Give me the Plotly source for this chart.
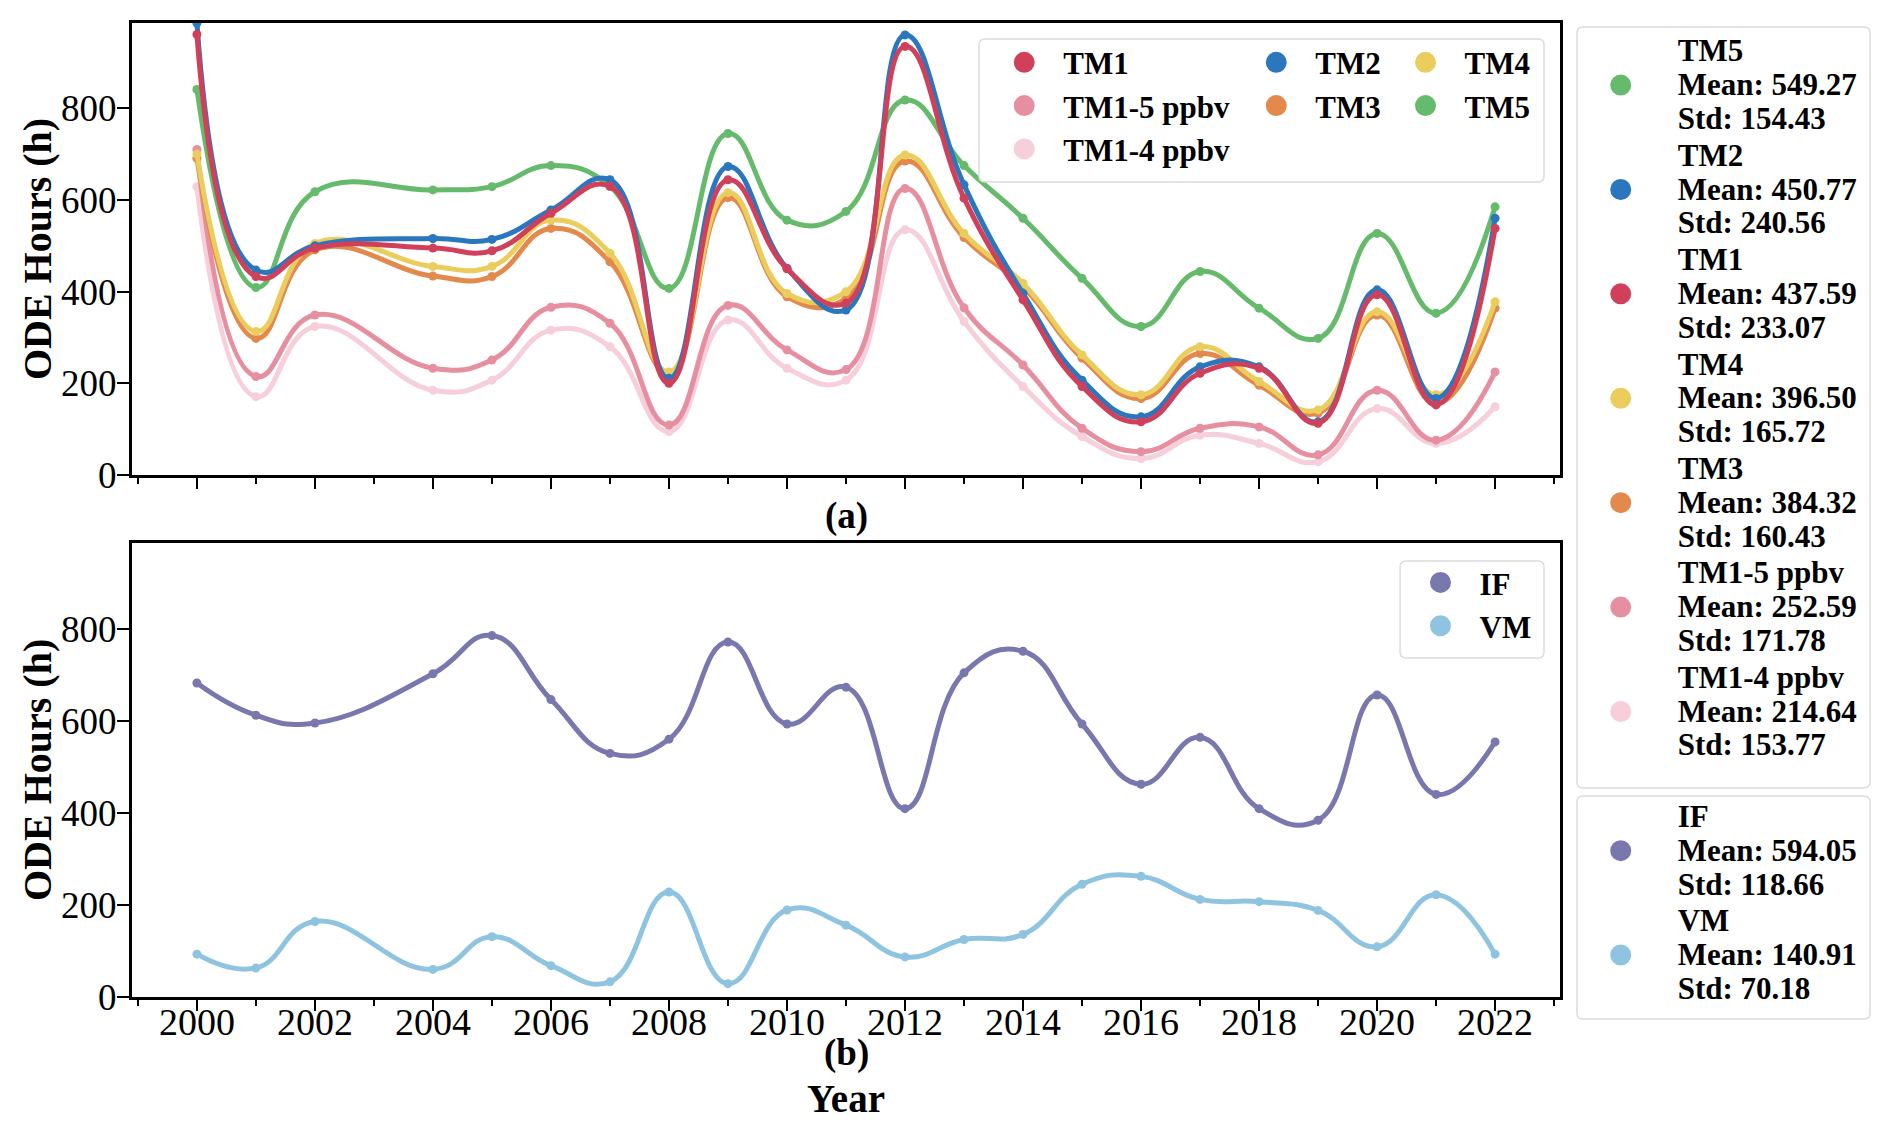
import plotly.graph_objects as go

# ---------------- data ----------------
years = [2000, 2001, 2002, 2004, 2005, 2006, 2007, 2008, 2009, 2010, 2011,
         2012, 2013, 2014, 2015, 2016, 2017, 2018, 2019, 2020, 2021, 2022]

tm1 = [961, 433, 495, 495, 489, 571, 630, 200, 644, 450, 375,
       935, 604, 382, 193, 116, 222, 233, 113, 393, 153, 538]
tm2 = [986, 447, 500, 516, 514, 578, 644, 211, 673, 451, 360,
       960, 633, 396, 207, 127, 236, 236, 116, 404, 167, 560]
tm3 = [691, 298, 491, 434, 433, 538, 465, 222, 605, 389, 385,
       685, 518, 411, 255, 167, 265, 196, 135, 349, 156, 364]
tm4 = [700, 313, 505, 455, 455, 556, 484, 225, 616, 396, 400,
       698, 527, 418, 262, 175, 280, 204, 142, 356, 175, 378]
tm5 = [841, 409, 618, 622, 629, 675, 630, 407, 745, 556, 575,
       818, 675, 560, 429, 324, 444, 364, 298, 527, 353, 585]
tm1_5 = [710, 215, 349, 233, 251, 366, 331, 109, 370, 273, 230,
         625, 365, 240, 102, 51, 102, 105, 44, 185, 76, 225]
tm1_4 = [629, 171, 324, 185, 207, 316, 280, 95, 338, 233, 207,
         535, 335, 193, 84, 36, 87, 69, 29, 145, 69, 149]
if_vals = [682, 612, 595, 702, 785, 646, 529, 560, 771, 593, 673,
           409, 704, 751, 593, 462, 564, 409, 384, 656, 440, 554]
vm_vals = [93, 63, 164, 60, 131, 68, 33, 228, 29, 189, 156,
           87, 125, 136, 245, 262, 212, 207, 188, 109, 222, 93]

top_names = ["TM1", "TM2", "TM3", "TM4", "TM5", "TM1-5 ppbv", "TM1-4 ppbv"]
top_series = [tm1, tm2, tm3, tm4, tm5, tm1_5, tm1_4]
top_colors = ["#D1405A", "#2A77BE", "#E3894C", "#EBCD5E", "#66BA6C", "#E68FA0", "#F6CFDA"]
top_means = ["437.59", "450.77", "384.32", "396.50", "549.27", "252.59", "214.64"]
top_stds = ["233.07", "240.56", "160.43", "165.72", "154.43", "171.78", "153.77"]

bot_names = ["IF", "VM"]
bot_series = [if_vals, vm_vals]
bot_colors = ["#7978AE", "#8EC4DF"]
bot_means = ["594.05", "140.91"]
bot_stds = ["118.66", "70.18"]

# legend layout in the top panel (three columns)
top_legend_cols = {"TM1": "legend", "TM1-5 ppbv": "legend", "TM1-4 ppbv": "legend",
                   "TM2": "legend2", "TM3": "legend2",
                   "TM4": "legend3", "TM5": "legend3"}
top_legend_rank = {"TM1": 1, "TM1-5 ppbv": 2, "TM1-4 ppbv": 3, "TM2": 1, "TM3": 2, "TM4": 1, "TM5": 2}
draw_order = ["TM1-4 ppbv", "TM1-5 ppbv", "TM5", "TM3", "TM4", "TM2", "TM1"]

ymax = max(max(s) for s in top_series + bot_series)

SERIF = "Liberation Serif, Times New Roman, serif"
fig = go.Figure()

def big(txt, size=31):
    return "<br>".join(f"<span style='font-size:{size}px'>{t}</span>" for t in txt.split("\n"))

# ---- data traces ----
for name in draw_order:
    i = top_names.index(name)
    fig.add_trace(go.Scatter(
        x=years, y=top_series[i], mode="lines+markers", name=name,
        line=dict(color=top_colors[i], width=5, shape="spline", smoothing=1.3),
        marker=dict(color=top_colors[i], size=9),
        xaxis="x", yaxis="y", showlegend=False))
for i, name in enumerate(bot_names):
    fig.add_trace(go.Scatter(
        x=years, y=bot_series[i], mode="lines+markers", name=name,
        line=dict(color=bot_colors[i], width=5, shape="spline", smoothing=1.3),
        marker=dict(color=bot_colors[i], size=9),
        xaxis="x2", yaxis="y2", showlegend=False))

def legend_dummy(name, color, legend, rank, xa="x", ya="y"):
    fig.add_trace(go.Scatter(
        x=[None], y=[None], mode="markers", name=name, legend=legend, legendrank=rank,
        marker=dict(color=color, size=16, line=dict(color=color, width=5)),
        xaxis=xa, yaxis=ya, showlegend=True, hoverinfo="skip"))

# inside legends, top panel
for name in top_names:
    i = top_names.index(name)
    legend_dummy(name, top_colors[i], top_legend_cols[name], top_legend_rank[name])
# inside legend, bottom panel
for i, name in enumerate(bot_names):
    legend_dummy(name, bot_colors[i], "legend4", i + 1, "x2", "y2")
# statistics legend (right), sorted by mean
order = sorted(range(len(top_names)), key=lambda k: -float(top_means[k]))
for r, i in enumerate(order):
    legend_dummy(big(f"{top_names[i]}\nMean: {top_means[i]}\nStd: {top_stds[i]}"),
                 top_colors[i], "legend5", r + 1)
for i, name in enumerate(bot_names):
    legend_dummy(big(f"{name}\nMean: {bot_means[i]}\nStd: {bot_stds[i]}"),
                 bot_colors[i], "legend6", i + 1, "x2", "y2")

# ---------------- axes ----------------
xcommon = dict(range=[1998.9, 2023.1], tick0=2000, dtick=2, ticks="outside", ticklen=11,
               tickwidth=2, tickcolor="black", showline=True, linewidth=3, linecolor="black",
               mirror=True, showgrid=False, zeroline=False, ticklabelstandoff=-22,
               minor=dict(dtick=1, ticks="outside", ticklen=6, tickwidth=1.5, tickcolor="black"),
               tickfont=dict(family=SERIF, size=38, color="black"))
ycommon = dict(range=[0, ymax], tick0=0, dtick=200, ticks="outside", ticklen=12, tickwidth=2,
               tickcolor="black", showline=True, linewidth=3, linecolor="black", mirror=True,
               showgrid=False, zeroline=False, ticklabelstandoff=-7,
               tickfont=dict(family=SERIF, size=37, color="black"))

top_dom = [0.5359, 1.0]
bot_dom = [0.0, 0.4661]

fig.update_layout(
    width=1892, height=1130,
    margin=dict(l=132, r=332, t=23, b=133, autoexpand=False),
    paper_bgcolor="white", plot_bgcolor="white",
    xaxis=dict(xcommon, anchor="y", domain=[0, 1], showticklabels=False),
    yaxis=dict(ycommon, anchor="x", domain=top_dom),
    xaxis2=dict(xcommon, anchor="y2", domain=[0, 1]),
    yaxis2=dict(ycommon, anchor="x2", domain=bot_dom),
)

leg_font = dict(family=SERIF, size=31, color="black", weight="bold")
stat_font = dict(family=SERIF, size=26, color="black", weight="bold")
base_leg = dict(bgcolor="rgba(0,0,0,0)", borderwidth=0, xanchor="left", yanchor="top",
                font=leg_font, itemwidth=68, orientation="v", traceorder="normal",
                itemclick=False, itemdoubleclick=False)
fig.update_layout(
    legend=dict(base_leg, x=0.5975, y=0.987),
    legend2=dict(base_leg, x=0.774, y=0.987),
    legend3=dict(base_leg, x=0.8785, y=0.987),
    legend4=dict(base_leg, x=0.889, y=0.453),
    legend5=dict(base_leg, x=1.0026, y=0.995, itemwidth=104, font=stat_font),
    legend6=dict(base_leg, x=1.0026, y=0.209, itemwidth=104, font=stat_font),
)

def rbox(x0, y0, x1, y1, r=6):
    W, H = 1428.0, 974.0
    rx, ry = r / W, r / H
    return (f"M {x0+rx},{y0} L {x1-rx},{y0} Q {x1},{y0} {x1},{y0+ry} "
            f"L {x1},{y1-ry} Q {x1},{y1} {x1-rx},{y1} L {x0+rx},{y1} "
            f"Q {x0},{y1} {x0},{y1-ry} L {x0},{y0+ry} Q {x0},{y0} {x0+rx},{y0} Z")

boxes = [(0.5931, 0.8368, 0.9888, 0.9836), (0.888, 0.3480, 0.9888, 0.4476),
         (1.0119, 0.2146, 1.2171, 0.9959), (1.0119, -0.0226, 1.2171, 0.2064)]
for b in boxes:
    fig.add_shape(type="path", path=rbox(*b), xref="paper", yref="paper",
                  line=dict(color="#DCDCDC", width=1.5), fillcolor="rgba(255,255,255,0.85)",
                  layer="above")

title_font = dict(family=SERIF, size=40, color="black", weight="bold")
for dom in (top_dom, bot_dom):
    fig.add_annotation(text="ODE Hours (h)", textangle=-90, x=-0.0665, y=(dom[0] + dom[1]) / 2,
                       xref="paper", yref="paper", showarrow=False, font=title_font,
                       xanchor="center", yanchor="middle")

ann_font = dict(family=SERIF, size=37, color="black", weight="bold")
fig.add_annotation(text="(a)", x=0.5, y=0.4938, xref="paper", yref="paper",
                   showarrow=False, font=ann_font, xanchor="center", yanchor="middle")
fig.add_annotation(text="(b)", x=0.5, y=-0.0575, xref="paper", yref="paper",
                   showarrow=False, font=ann_font, xanchor="center", yanchor="middle")
fig.add_annotation(text="Year", x=0.5, y=-0.1045, xref="paper", yref="paper",
                   showarrow=False, font=dict(ann_font, size=39), xanchor="center", yanchor="middle")

fig.write_html("out.html", config={"displayModeBar": False},
               post_script="document.body.style.margin='0px';document.body.style.overflow='hidden';")
